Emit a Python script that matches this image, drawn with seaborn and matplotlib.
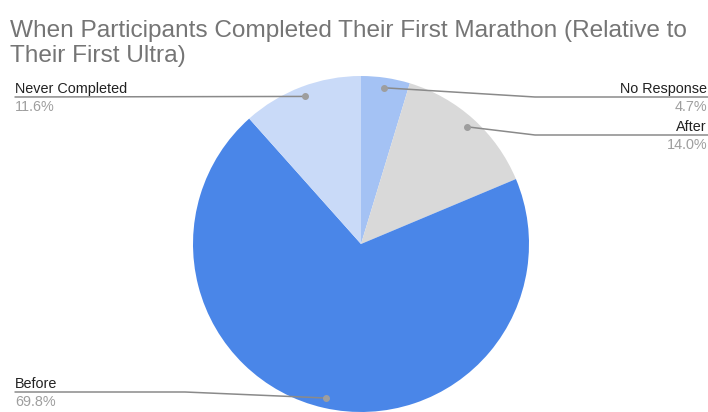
#!/usr/bin/env python3
# plot when participants completed their first marathon (relative to first ultra)

import numpy as np
import matplotlib
matplotlib.use('Agg')
import matplotlib.pyplot as plt
import seaborn as sns

# Data =========================================================================

categories = ['No Response', 'After', 'Before', 'Never Completed']
percents = [4.7, 14.0, 69.8, 11.6]
colors = ['#a4c2f4', '#d9d9d9', '#4a86e8', '#c9daf8']

# Layout (pixels, origin top-left) ============================================

W, H = 708, 412
CX, CY, R = 361, 244, 168
# label anchor: (side, line y, elbow x)
label_layout = {
    'No Response': ('right', 97, 535),
    'After': ('right', 135, 535),
    'Before': ('left', 392, 185),
    'Never Completed': ('left', 97, None),
}


def px(x, y):
    # pixel -> pie data coordinates
    return (x - CX) / R, (CY - y) / R


def main():
    sns.set_theme(style='white')
    plt.rcParams['font.family'] = ['Liberation Sans', 'DejaVu Sans']

    fig = plt.figure(figsize=(W / 100, H / 100), dpi=100)
    ax = fig.add_axes([(CX - R) / W, (H - CY - R) / H, 2 * R / W, 2 * R / H])
    wedges, _ = ax.pie(percents, colors=colors, startangle=90,
                       counterclock=False, radius=1,
                       wedgeprops={'linewidth': 0})
    ax.set_xlim(-1, 1)
    ax.set_ylim(-1, 1)
    ax.set_aspect('equal')
    ax.axis('off')

    for w, name, pct in zip(wedges, categories, percents):
        mid = np.deg2rad((w.theta1 + w.theta2) / 2)
        dx, dy = 0.94 * np.cos(mid), 0.94 * np.sin(mid)
        side, ly, ex = label_layout[name]
        _, y_line = px(0, ly)
        if side == 'right':
            x_end = px(W, 0)[0]
            pts = [(dx, dy), (px(ex, 0)[0], y_line), (x_end, y_line)]
            tx, ha = px(W - 1, 0)[0], 'right'
        else:
            x_end = px(15, 0)[0]
            if ex is None:
                pts = [(dx, dy), (x_end, y_line)]
            else:
                pts = [(dx, dy), (px(ex, 0)[0], y_line), (x_end, y_line)]
            tx, ha = x_end, 'left'
        xs, ys = zip(*pts)
        ax.plot(xs, ys, color='#8a8a8a', lw=1.1, clip_on=False)
        ax.plot([dx], [dy], 'o', color='#9e9e9e', ms=4, clip_on=False)
        ax.text(tx, y_line + 4 / R, name, ha=ha, va='baseline',
                fontsize=10.4, color='#222222', clip_on=False)
        ax.text(tx, y_line - 14 / R, f'{pct:.1f}%', ha=ha, va='baseline',
                fontsize=10.4, color='#9e9e9e', clip_on=False)

    fig.text(10 / W, 1 - 62 / H,
             'When Participants Completed Their First Marathon (Relative to\n'
             'Their First Ultra)',
             ha='left', va='baseline', fontsize=17.6, color='#757575',
             linespacing=1.15)

    fig.savefig('out.png', dpi=100)


if __name__ == '__main__':
    main()
